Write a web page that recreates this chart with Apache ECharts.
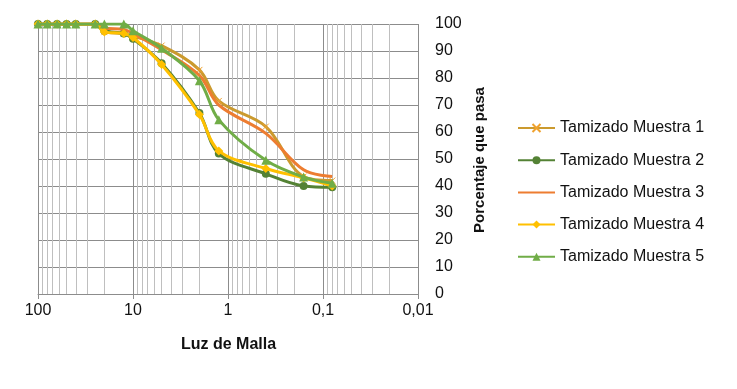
<!DOCTYPE html>
<html>
<head>
<meta charset="utf-8">
<script src="https://cdn.jsdelivr.net/npm/echarts@6/dist/echarts.min.js"></script>
<style>
html,body{margin:0;padding:0;background:#fff;}
#chart{width:737px;height:389px;}
</style>
</head>
<body>
<div id="chart"></div>
<script>
// Sieve sizes (mm) – x values
var sizes = [100, 80, 63, 50, 40, 25, 20, 12.5, 10, 5, 2, 1.25, 0.4, 0.16, 0.08];
// Percentage passing per sample
var muestra1 = [100, 100, 100, 100, 100, 100, 97, 96.5, 95.5, 92, 83, 71.5, 62, 43.5, 42];
var muestra2 = [100, 100, 100, 100, 100, 100, 97.5, 96.5, 94.5, 85.5, 67, 52, 44.5, 40, 39.5];
var muestra3 = [100, 100, 100, 100, 100, 100, 98.5, 98, 96.5, 90.5, 81, 70, 59.5, 46, 43.5];
var muestra4 = [100, 100, 100, 100, 100, 100, 97, 96.5, 95, 85, 66.5, 53, 46.5, 43, 40];
var muestra5 = [100, 100, 100, 100, 100, 100, 100, 100, 97.5, 91, 79, 64.5, 49.5, 43.3, 41];
var seriesNames = ['Tamizado Muestra 1', 'Tamizado Muestra 2', 'Tamizado Muestra 3', 'Tamizado Muestra 4', 'Tamizado Muestra 5'];
// Tick labels for the log x axis
var xTickValues = [100, 10, 1, 0.1, 0.01];
var xTickLabels = ['100', '10', '1', '0,1', '0,01'];
var yTicks = [0, 10, 20, 30, 40, 50, 60, 70, 80, 90, 100];
// Minor log grid positions
var minorGrid = [90, 80, 70, 60, 50, 40, 30, 20, 9, 8, 7, 6, 5, 4, 3, 2, 0.9, 0.8, 0.7, 0.6, 0.5, 0.4, 0.3, 0.2, 0.09, 0.08, 0.07, 0.06, 0.05, 0.04, 0.03, 0.02];

function zip(xs, ys) { return xs.map(function (x, i) { return [x, ys[i]]; }); }

var FONT = '"Liberation Sans", Arial, sans-serif';
var crossPath = 'path://M0,0L10,10M10,0L0,10';

var chart = echarts.init(document.getElementById('chart'));
var option = {
  animation: false,
  backgroundColor: '#ffffff',
  textStyle: { fontFamily: FONT },
  grid: { left: 38, top: 24, width: 380, height: 270, containLabel: false },
  legend: {
    data: [
      { name: seriesNames[0] },
      { name: seriesNames[1] },
      { name: seriesNames[2], itemStyle: { opacity: 0 } },
      { name: seriesNames[3] },
      { name: seriesNames[4] }
    ],
    orient: 'vertical',
    left: 517,
    top: 120,
    padding: 0,
    itemWidth: 37,
    itemHeight: 10,
    itemGap: 16.2,
    textStyle: { fontFamily: FONT, fontSize: 16, color: '#111' }
  },
  xAxis: {
    type: 'log',
    logBase: 10,
    min: 0.01,
    max: 100,
    inverse: true,
    axisLine: { show: true, lineStyle: { color: '#8c8c8c', width: 1 } },
    axisTick: { show: true, length: 5, lineStyle: { color: '#8c8c8c' } },
    axisLabel: {
      margin: 9,
      fontSize: 16,
      color: '#111',
      fontFamily: FONT,
      formatter: function (v) {
        for (var i = 0; i < xTickValues.length; i++) {
          if (Math.abs(Math.log10(v) - Math.log10(xTickValues[i])) < 1e-6) return xTickLabels[i];
        }
        return '';
      }
    },
    splitLine: { show: true, lineStyle: { color: '#8c8c8c', width: 1 } }
  },
  yAxis: {
    type: 'value',
    position: 'right',
    min: yTicks[0],
    max: yTicks[yTicks.length - 1],
    interval: 10,
    axisLine: { show: false },
    axisTick: { show: false },
    axisLabel: { margin: 17, fontSize: 16, color: '#111', fontFamily: FONT, align: 'left' },
    splitLine: { show: true, lineStyle: { color: '#8c8c8c', width: 1 } }
  },
  graphic: [
    { type: 'text', left: 181, top: 337, style: { text: 'Luz de Malla', font: 'bold 16px ' + FONT, fill: '#111' } },
    { type: 'text', x: 480, y: 160, rotation: Math.PI / 2,
      style: { text: 'Porcentaje que pasa', font: 'bold 15px ' + FONT, fill: '#111', textAlign: 'center', textVerticalAlign: 'middle' } }
  ],
  series: [
    {
      name: 'grid-minor', type: 'lines', coordinateSystem: 'cartesian2d', silent: true, z: 0,
      polyline: false,
      lineStyle: { color: '#bfbfbf', width: 1, type: 'solid', opacity: 1 },
      data: minorGrid.map(function (v) { return { coords: [[v, yTicks[0]], [v, yTicks[yTicks.length - 1]]] }; })
    },
    {
      name: seriesNames[0], type: 'line', data: zip(sizes, muestra1), smooth: 0.35,
      symbol: crossPath, symbolSize: 6,
      lineStyle: { color: '#CB9A2E', width: 3 },
      itemStyle: { color: '#CB9A2E', borderColor: '#F0A22E', borderWidth: 1 },
      z: 2
    },
    {
      name: seriesNames[1], type: 'line', data: zip(sizes, muestra2), smooth: 0.35,
      symbol: 'circle', symbolSize: 8,
      lineStyle: { color: '#548235', width: 3 },
      itemStyle: { color: '#548235' },
      z: 3
    },
    {
      name: seriesNames[2], type: 'line', data: zip(sizes, muestra3), smooth: 0.35,
      symbol: 'circle', showSymbol: false,
      lineStyle: { color: '#ED7D31', width: 3 },
      itemStyle: { color: '#ED7D31' },
      z: 4
    },
    {
      name: seriesNames[3], type: 'line', data: zip(sizes, muestra4), smooth: 0.35,
      symbol: 'diamond', symbolSize: 9,
      lineStyle: { color: '#FFC000', width: 3 },
      itemStyle: { color: '#FFC000' },
      z: 5
    },
    {
      name: seriesNames[4], type: 'line', data: zip(sizes, muestra5), smooth: 0.35,
      symbol: 'triangle', symbolSize: 9,
      lineStyle: { color: '#70AD47', width: 3 },
      itemStyle: { color: '#70AD47' },
      z: 6
    }
  ]
};
chart.setOption(option);
</script>
</body>
</html>
